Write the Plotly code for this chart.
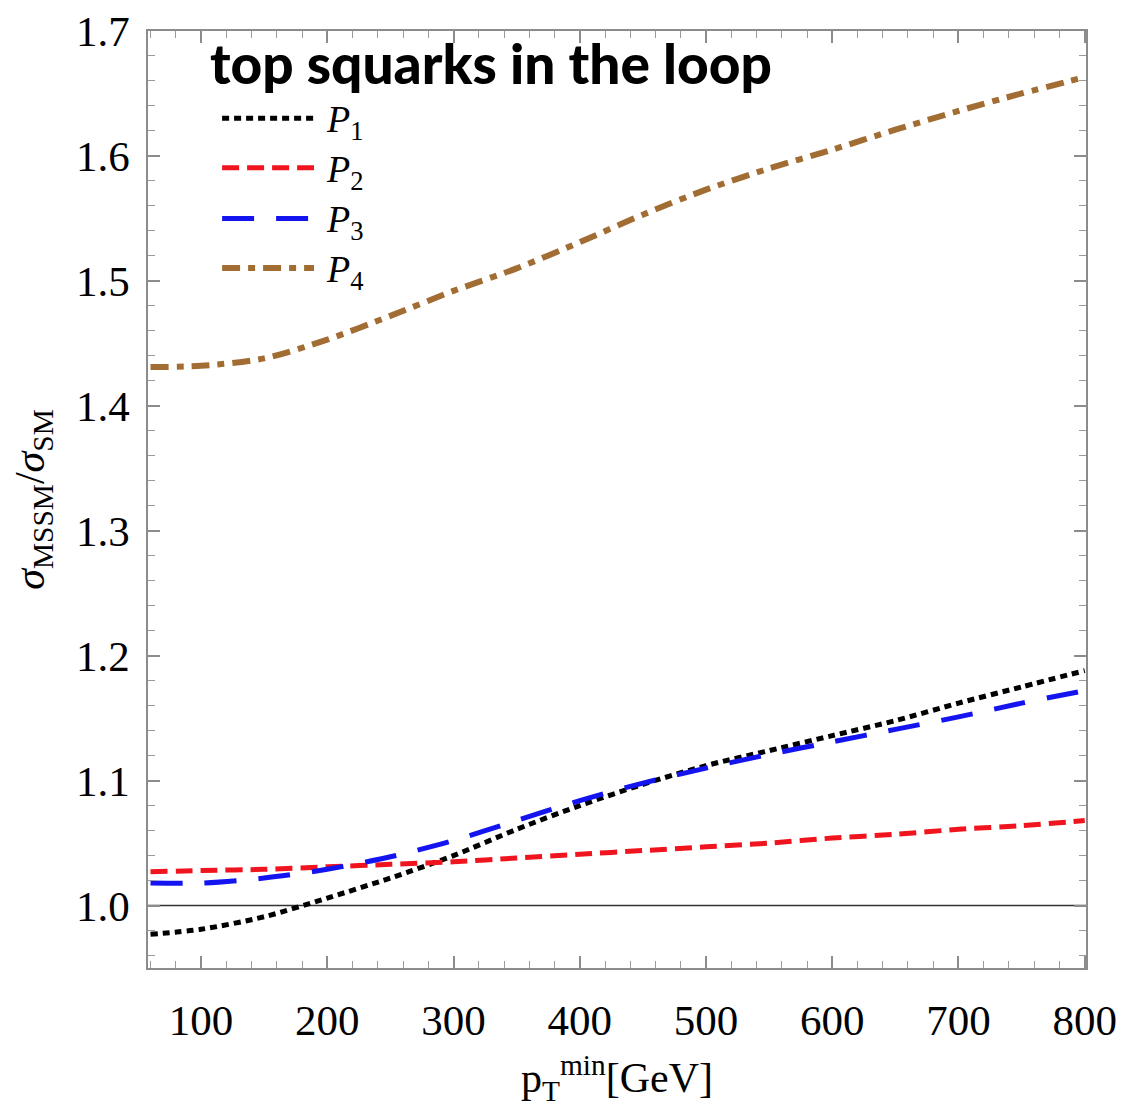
import plotly.graph_objects as go

# Transverse-momentum cut p_T^min [GeV]
pt_min = [60, 100, 150, 200, 250, 300, 350, 400, 450, 500, 550, 600, 650, 700, 750, 800]

# Ratio sigma_MSSM / sigma_SM for the four benchmark points
ratio_p1 = [0.977, 0.981, 0.991, 1.006, 1.022, 1.040, 1.061, 1.080, 1.097, 1.112,
            1.124, 1.136, 1.148, 1.162, 1.175, 1.188]
ratio_p2 = [1.027, 1.028, 1.029, 1.031, 1.033, 1.035, 1.038, 1.041, 1.044, 1.047,
            1.050, 1.054, 1.057, 1.061, 1.064, 1.068]
ratio_p3 = [1.018, 1.018, 1.022, 1.029, 1.039, 1.052, 1.068, 1.084, 1.098, 1.110,
            1.121, 1.131, 1.141, 1.151, 1.162, 1.172]
ratio_p4 = [1.431, 1.432, 1.438, 1.453, 1.472, 1.492, 1.510, 1.531, 1.553, 1.573,
            1.590, 1.605, 1.621, 1.636, 1.650, 1.663]

series_names = ["P<sub>1</sub>", "P<sub>2</sub>", "P<sub>3</sub>", "P<sub>4</sub>"]
series_values = [ratio_p1, ratio_p2, ratio_p3, ratio_p4]

x_ticks = [100, 200, 300, 400, 500, 600, 700, 800]
y_ticks = [1.0, 1.1, 1.2, 1.3, 1.4, 1.5, 1.6, 1.7]

styles = [
    dict(color="#000000", width=5, dash="7px,5px"),
    dict(color="#f0141e", width=5, dash="17px,8px"),
    dict(color="#1414f0", width=5, dash="32px,22px"),
    dict(color="#a26d33", width=6, dash="18px,8px,7px,8px"),
]

fig = go.Figure()

for name, vals, st in zip(series_names, series_values, styles):
    fig.add_trace(go.Scatter(
        x=pt_min, y=vals, mode="lines", name=name,
        line=dict(color=st["color"], width=st["width"], dash=st["dash"],
                  shape="spline", smoothing=0.8),
        showlegend=False,
    ))

# Reference line at ratio 1
fig.add_shape(type="line", xref="paper", x0=0, x1=1, yref="y", y0=1.0, y1=1.0,
              line=dict(color="#333333", width=1.5), layer="below")

# Hand-drawn legend (long line samples)
legend_rows_y = [0.907, 0.854, 0.800, 0.747]
for name, st, yy in zip(series_names, styles, legend_rows_y):
    fig.add_shape(type="line", xref="paper", yref="paper",
                  x0=0.079, x1=0.177, y0=yy, y1=yy,
                  line=dict(color=st["color"], width=st["width"], dash=st["dash"]))
    label = "<i>P</i>" + name[1:]
    fig.add_annotation(xref="paper", yref="paper", x=0.188, y=yy - 0.004,
                       text=label, showarrow=False, xanchor="left", yanchor="middle",
                       font=dict(family="Liberation Serif", size=38, color="black"))

fig.add_annotation(xref="paper", yref="paper", x=0.064, y=0.966,
                   text="top squarks in the loop", showarrow=False,
                   xanchor="left", yanchor="middle",
                   font=dict(family="Lato", size=55, weight=900, color="black"))

axis_common = dict(
    showline=True, linecolor="#8c8c8c", linewidth=1.5, mirror="ticks",
    ticks="inside", ticklen=12, tickwidth=1.5, tickcolor="#8c8c8c",
    showgrid=False, zeroline=False, automargin=False,
    tickfont=dict(family="Liberation Serif", size=43, color="black"),
)

fig.update_xaxes(
    range=[58, 801], tickvals=x_ticks, ticktext=[str(v) for v in x_ticks],
    minor=dict(dtick=20, tick0=0, ticks="inside", ticklen=7, tickwidth=1.2,
               tickcolor="#9a9a9a"),
    ticklabelstandoff=14,
    title=dict(text="p<sub>T</sub><sup>min</sup>[GeV]", standoff=20,
               font=dict(family="Liberation Serif", size=42, color="black")),
    **axis_common,
)
fig.update_yaxes(
    range=[0.95, 1.7], tickvals=y_ticks, ticktext=[f"{v:.1f}" for v in y_ticks],
    minor=dict(dtick=0.02, tick0=0, ticks="inside", ticklen=7, tickwidth=1.2,
               tickcolor="#9a9a9a"),
    ticklabelstandoff=8,
    title=dict(text="<i>σ</i><sub>MSSM</sub>/<i>σ</i><sub>SM</sub>", standoff=18,
               font=dict(family="Liberation Serif", size=42, color="black")),
    **axis_common,
)

fig.update_layout(
    width=1123, height=1107,
    margin=dict(l=148, r=37, t=31, b=139),
    paper_bgcolor="white", plot_bgcolor="white",
    showlegend=False,
)

fig.write_html("out.html")
